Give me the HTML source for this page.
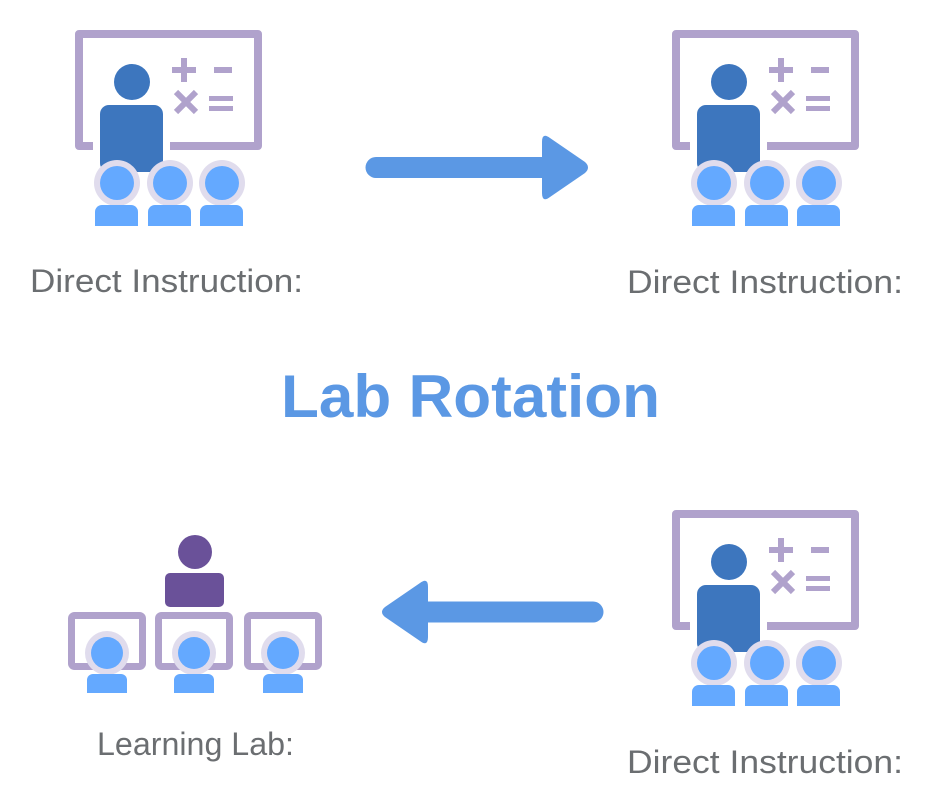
<!DOCTYPE html>
<html><head><meta charset="utf-8"><style>html,body{margin:0;padding:0;background:#fff}svg{display:block}</style></head>
<body>
<svg width="940" height="788" viewBox="0 0 940 788" xmlns="http://www.w3.org/2000/svg">
<defs>
<g id="cls">
  <path d="M93 146 H79 V34 H258 V146 H170" fill="none" stroke="#b0a2cc" stroke-width="8" stroke-linejoin="round"/>
  <g fill="#b0a2cc">
    <rect x="172" y="67" width="24" height="6"/><rect x="181" y="58" width="6" height="24"/>
    <rect x="214" y="67" width="18" height="6"/>
    <rect x="209" y="96" width="24" height="5"/><rect x="209" y="106" width="24" height="5"/>
    <path d="M176 92 L196 112 M196 92 L176 112" stroke="#b0a2cc" stroke-width="6"/>
  </g>
  <circle cx="132" cy="82" r="18" fill="#3d76be"/>
  <rect x="100" y="105" width="63" height="67" rx="9" fill="#3d76be"/>
  <g>
    <circle cx="117" cy="183" r="23" fill="#e0dced"/><circle cx="117" cy="183" r="17" fill="#64a9ff"/>
    <circle cx="170" cy="183" r="23" fill="#e0dced"/><circle cx="170" cy="183" r="17" fill="#64a9ff"/>
    <circle cx="222" cy="183" r="23" fill="#e0dced"/><circle cx="222" cy="183" r="17" fill="#64a9ff"/>
    <path d="M95 226 V212 a7 7 0 0 1 7 -7 H131 a7 7 0 0 1 7 7 V226Z" fill="#64a9ff"/>
    <path d="M148 226 V212 a7 7 0 0 1 7 -7 H184 a7 7 0 0 1 7 7 V226Z" fill="#64a9ff"/>
    <path d="M200 226 V212 a7 7 0 0 1 7 -7 H236 a7 7 0 0 1 7 7 V226Z" fill="#64a9ff"/>
  </g>
</g>
<g id="mon">
  <rect x="3.5" y="3.5" width="71" height="51" rx="3" fill="none" stroke="#b0a2cc" stroke-width="7"/>
  <circle cx="39" cy="41" r="22" fill="#e0dced"/><circle cx="39" cy="41" r="16" fill="#64a9ff"/>
  <path d="M19 81 V68 a6 6 0 0 1 6 -6 H53 a6 6 0 0 1 6 6 V81Z" fill="#64a9ff"/>
</g>
</defs>
<use href="#cls"/>
<use href="#cls" x="597" y="0"/>
<use href="#cls" x="597" y="480"/>
<circle cx="195" cy="552" r="17" fill="#6a5199"/>
<rect x="165" y="573" width="59" height="34" rx="5" fill="#6a5199"/>
<use href="#mon" x="68" y="612"/>
<use href="#mon" x="155" y="612"/>
<use href="#mon" x="244" y="612"/>
<line x1="376" y1="167.5" x2="550" y2="167.5" stroke="#5b98e4" stroke-width="21" stroke-linecap="round"/>
<path d="M542 142 Q542 132 550 138 L585 162 Q591 167.5 585 173 L550 197 Q542 203 542 193Z" fill="#5b98e4"/>
<line x1="593" y1="612" x2="420" y2="612" stroke="#5b98e4" stroke-width="21" stroke-linecap="round"/>
<path d="M428 587 Q428 577 420 583 L385 607 Q379 612 385 617 L420 641 Q428 647 428 637Z" fill="#5b98e4"/>
<g font-family="Liberation Sans, sans-serif" fill="#6b6e71" font-size="32">
<text x="30" y="292" textLength="273" lengthAdjust="spacingAndGlyphs">Direct Instruction:</text>
<text x="627" y="293" textLength="276" lengthAdjust="spacingAndGlyphs">Direct Instruction:</text>
<text x="97" y="755" textLength="197" lengthAdjust="spacingAndGlyphs">Learning Lab:</text>
<text x="627" y="773" textLength="276" lengthAdjust="spacingAndGlyphs">Direct Instruction:</text>
</g>
<text x="281" y="417" font-family="Liberation Sans, sans-serif" font-weight="bold" font-size="60" fill="#5b98e4" textLength="379" lengthAdjust="spacingAndGlyphs">Lab Rotation</text>
</svg>
</body></html>
